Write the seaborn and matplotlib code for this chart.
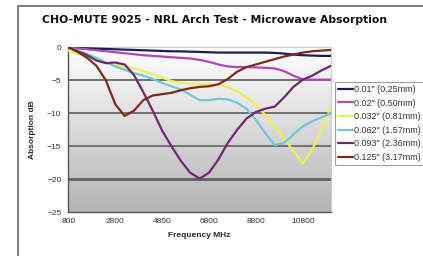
import matplotlib
matplotlib.use('Agg')
import matplotlib.pyplot as plt
import numpy as np
import pandas as pd
import seaborn as sns
from matplotlib.colors import LinearSegmentedColormap
from matplotlib.patches import Rectangle

sns.set_theme(style='white')
plt.rcParams['font.family'] = ['Liberation Sans', 'DejaVu Sans']

# frequency in MHz
freq = [800, 1200, 1600, 2000, 2400, 2800, 3200, 3600, 4000, 4400, 4800, 5200, 5600, 6000, 6400,
        6800, 7200, 7600, 8000, 8400, 8800, 9200, 9600, 10000, 10400, 10800, 11200, 11600, 12000]

labels = ['0.01" (0.25mm)', '0.02" (0.50mm)', '0.032" (0.81mm)',
          '0.062" (1.57mm)', '0.093" (2.36mm)', '0.125" (3.17mm)']

t010 = [0, -0.1, -0.15, -0.2, -0.25, -0.3, -0.35, -0.4, -0.45, -0.5, -0.55, -0.6, -0.62, -0.66, -0.7,
        -0.75, -0.8, -0.8, -0.8, -0.8, -0.8, -0.8, -0.85, -0.95, -1.1, -1.2, -1.25, -1.3, -1.3]
t020 = [0, -0.15, -0.3, -0.45, -0.6, -0.75, -0.9, -1.05, -1.2, -1.3, -1.4, -1.5, -1.6, -1.7, -1.9,
        -2.2, -2.6, -2.9, -3.0, -3.0, -3.05, -3.1, -3.2, -3.6, -4.3, -4.85, -4.9, -4.9, -4.9]
t032 = [-0.5, -1.0, -1.4, -1.9, -2.3, -2.6, -2.9, -3.2, -3.6, -4.1, -4.6, -5.1, -5.4, -5.5, -5.6,
        -5.6, -5.7, -6.0, -6.7, -7.6, -8.6, -10.3, -12.0, -13.8, -15.7, -17.6, -15.5, -12.5, -9.0]
t062 = [0, -0.5, -1.0, -1.6, -2.3, -2.9, -3.4, -3.9, -4.3, -4.8, -5.4, -5.9, -6.4, -7.2, -8.0,
        -8.0, -7.8, -7.9, -8.4, -9.3, -11.0, -13.0, -14.8, -14.5, -13.2, -12.0, -11.2, -10.6, -10.0]
t093 = [0, -0.6, -1.2, -2.0, -2.4, -2.3, -2.6, -4.2, -6.8, -9.6, -12.6, -15.0, -17.2, -19.0, -19.9,
        -19.0, -17.0, -14.5, -12.5, -10.8, -9.8, -9.3, -9.0, -7.6, -6.0, -4.9, -4.3, -3.5, -2.8]
t125 = [0, -0.7, -1.6, -2.8, -5.0, -8.6, -10.4, -9.6, -8.0, -7.3, -7.1, -6.9, -6.5, -6.2, -6.0,
        -5.9, -5.6, -4.8, -3.7, -3.0, -2.6, -2.2, -1.8, -1.4, -1.1, -0.8, -0.6, -0.5, -0.4]

colors = ['#1c1d55', '#b147b8', '#f0ee55', '#74c7d6', '#6a2b6c', '#7c2a1c']

series = [t010, t020, t032, t062, t093, t125]
df = pd.concat([pd.DataFrame({'freq': freq, 'db': s, 'thk': lab}) for lab, s in zip(labels, series)])

fig = plt.figure(figsize=(4.23, 2.56), dpi=100)
ax = fig.add_axes([0.1615, 0.1707, 0.6208, 0.6445])

# gradient background of the plot area
cmap = LinearSegmentedColormap.from_list('bg', ['#ffffff', '#b4b4b4'])
ax.imshow(np.linspace(0, 1, 256).reshape(-1, 1), cmap=cmap, aspect='auto',
          extent=[800, 12000, -25, 0], zorder=0)
for yv in [-5, -10, -15]:
    ax.axhline(yv, color='#707070', lw=1.4, zorder=1)
ax.axhline(-20, color='#606060', lw=2.0, zorder=1)

sns.lineplot(data=df, x='freq', y='db', hue='thk', palette=colors, lw=1.6, ax=ax, zorder=3)

ax.set_xlim(800, 12000)
ax.set_ylim(-25, 0)
ax.set_xticks([800, 2800, 4800, 6800, 8800, 10800])
ax.set_yticks([0, -5, -10, -15, -20, -25])
ax.tick_params(labelsize=6, colors='#333333', length=3, width=0.8, pad=2)
ax.tick_params(axis='x', direction='inout', length=4)
ax.tick_params(axis='y', direction='out', length=3)
ax.set_xlabel('Frequency MHz', fontsize=6, fontweight='bold', labelpad=5)
ax.set_ylabel('Absorption dB', fontsize=6, fontweight='bold', labelpad=8)
for s in ['left', 'bottom']:
    ax.spines[s].set_color('#555555')
    ax.spines[s].set_linewidth(1.0)
for s in ['top', 'right']:
    ax.spines[s].set_color('#cccccc')
    ax.spines[s].set_linewidth(0.8)

# legend runs off the right edge, as in the original
leg = ax.legend(loc='upper left', bbox_to_anchor=(330 / 423, 1 - 77 / 256),
                bbox_transform=fig.transFigure, fontsize=6.5, frameon=True,
                fancybox=False, edgecolor='#888888', handlelength=1.6, handletextpad=0.2,
                labelspacing=0.5, borderpad=0.4, title=None)
leg.get_frame().set_linewidth(0.8)
for t in leg.get_texts():
    t.set_color('#333333')

fig.text(0.508, 1 - 20 / 256, 'CHO-MUTE 9025 - NRL Arch Test - Microwave Absorption',
         ha='center', va='center', fontsize=7.8, fontweight='bold', color='#111111',
         family=['DejaVu Sans'])

fig.patches.append(Rectangle((18 / 423, -0.1), 1.0, 1.1 - 6 / 256, transform=fig.transFigure,
                             fill=False, edgecolor='#666666', lw=1.2))

fig.savefig('out.png', dpi=100)
